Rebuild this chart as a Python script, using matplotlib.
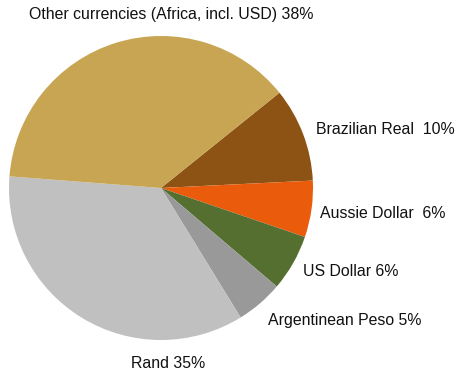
import matplotlib.pyplot as plt

plt.rcParams['font.family'] = ['Liberation Sans', 'DejaVu Sans']

# currency split, clockwise from the top-right edge
currencies = ['Brazilian Real', 'Aussie Dollar', 'US Dollar', 'Argentinean Peso',
              'Rand', 'Other currencies (Africa, incl. USD)']
shares = [10, 6, 6, 5, 35, 38]
labels = ['Brazilian Real  10%', 'Aussie Dollar  6%', 'US Dollar 6%',
          'Argentinean Peso 5%', 'Rand 35%', 'Other currencies (Africa, incl. USD) 38%']
colors = ['#8D5315', '#EA5C0C', '#556F31', '#999999', '#C0C0C0', '#C8A552']

W, H = 457, 378
fig = plt.figure(figsize=(W / 100, H / 100), dpi=100)

# pie centred at (161, 188) px, radius 152 px
cx, cy, r = 161, 188, 152
ax = fig.add_axes([(cx - r) / W, (H - cy - r) / H, 2 * r / W, 2 * r / H])
ax.pie(shares, colors=colors, startangle=38.8, counterclock=False,
       radius=1, wedgeprops=dict(linewidth=0))
ax.set_xlim(-1, 1)
ax.set_ylim(-1, 1)
ax.set_aspect('equal')
ax.axis('off')

# label anchor points in pixels (left edge, vertical centre)
label_pos = [(316, 130), (320, 213), (303, 271), (268, 320), (131, 363), (29, 15)]
for text, (x, y) in zip(labels, label_pos):
    fig.text(x / W, 1 - y / H, text, ha='left', va='center', fontsize=11.4, color='#111111')

fig.savefig('out.png', dpi=100)
